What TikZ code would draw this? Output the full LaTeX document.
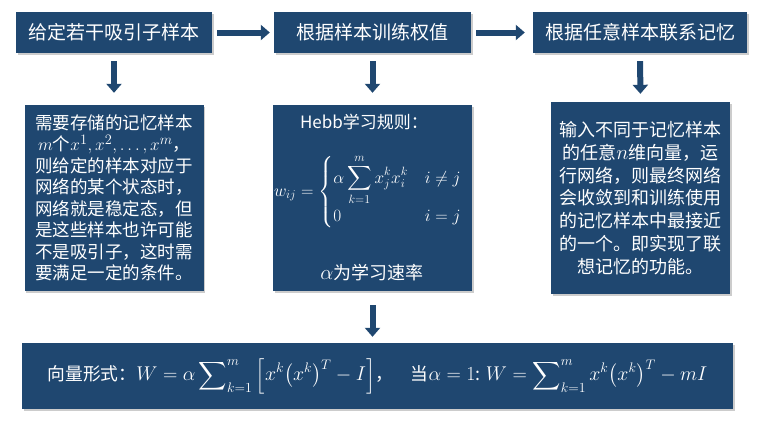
\documentclass[tikz,border=0pt]{standalone}
\usepackage{amsmath, amssymb}
\usepackage{fontspec}
\newfontfamily\cjk{Noto Sans CJK SC}
\usepackage{xcolor}
\usetikzlibrary{arrows.meta, shadows, positioning}
\definecolor{panelblue}{RGB}{31,71,112}
\definecolor{shadowgray}{RGB}{110,110,110}
\newcommand\largemath[1]{{\fontsize{20.5}{24}\selectfont$#1$}}

\begin{document}
\begin{tikzpicture}[x=1pt, y=-1pt,
  panel/.style={fill=panelblue, text=white, inner sep=0pt,
    drop shadow={shadow xshift=1.5pt, shadow yshift=-1.5pt,
                 opacity=0.35, fill=shadowgray}},
  head/.style={panel, minimum height=41pt,
    font=\cjk\fontsize{19}{22}\selectfont},
  note/.style={panel, font=\cjk\fontsize{17.5}{21.5}\selectfont},
  flow/.style={draw=panelblue, line width=6pt,
    -{Triangle[length=9pt, width=15pt]}}
]
  \useasboundingbox (0,0) rectangle (764,424);

  % top row of steps
  \node[head, minimum width=196pt] (given) at (114,32.5) {给定若干吸引子样本};
  \node[head, minimum width=197pt] (train) at (372.5,32.5) {根据样本训练权值};
  \node[head, minimum width=214pt] (recall) at (640,32.5) {根据任意样本联系记忆};

  % middle row of notes
  \node[note, align=left, minimum width=179pt, minimum height=186pt]
    (store) at (114,198) {需要存储的记忆样本\\
    \,{\fontsize{19}{21.5}\selectfont$m$}个{\fontsize{19}{21.5}\selectfont$x^1,x^2,\ldots,x^m$}，\\
    则给定的样本对应于\\
    网络的某个状态时，\\
    网络就是稳定态，但\\
    是这些样本也许可能\\
    不是吸引子，这时需\\
    要满足一定的条件。};
  \node[note, minimum width=199pt, minimum height=186pt]
    (hebb) at (372.5,198) {};
  \node[text=white, font=\cjk\fontsize{17}{20}\selectfont]
    (hebbtitle) at (364,122) {Hebb学习规则：};
  \node[text=white, font=\fontsize{17}{20}\selectfont]
    (hebbrule) at (368,192) {$w_{ij}=\begin{cases}
      \alpha\displaystyle\sum_{k=1}^{m}x_j^k x_i^k & i\neq j\\
      0 & i=j\end{cases}$};
  \node[text=white, font=\cjk\fontsize{18}{21}\selectfont]
    (hebbrate) at (372,273) {{\fontsize{20}{21}\selectfont$\alpha$}为学习速率};
  \node[note, align=center, minimum width=179pt, minimum height=192pt,
    font=\cjk\fontsize{18}{22.8}\selectfont]
    (assoc) at (640.5,198) {输入不同于记忆样本\\
    的任意{\fontsize{20}{22.8}\selectfont$n$}维向量，运\\
    行网络，则最终网络\\
    会收敛到和训练使用\\
    的记忆样本中最接近\\
    的一个。即实现了联\\
    想记忆的功能。};

  % bottom summary
  \node[panel, minimum width=711pt, minimum height=66pt,
    font=\cjk\fontsize{18.5}{20}\selectfont]
    (vector) at (377.5,376) {\scalebox{0.96}{向量形式：\largemath{W=\alpha\displaystyle\sum\nolimits_{k=1}^{m}
      \Big[x^k\big(x^k\big)^T-I\Big]}，\quad
      当\largemath{\alpha=1}: \largemath{W=\displaystyle\sum\nolimits_{k=1}^{m}x^k\big(x^k\big)^T-mI}}};

  % arrows
  \draw[flow, shorten <=5pt, shorten >=4pt] (given) -- (train);
  \draw[flow, shorten <=5pt, shorten >=8pt] (train) -- (recall);
  \draw[flow, shorten <=8pt, shorten >=12pt] (given.south) -- (store.north);
  \draw[flow, shorten <=8pt, shorten >=12pt] (train.south) -- (hebb.north);
  \draw[flow, shorten <=8pt, shorten >=8pt] (recall.south) -- (assoc.north);
  \draw[flow, shorten <=14pt, shorten >=6pt] (hebb.south) -- (vector.north -| hebb.south);
\end{tikzpicture}
\end{document}
